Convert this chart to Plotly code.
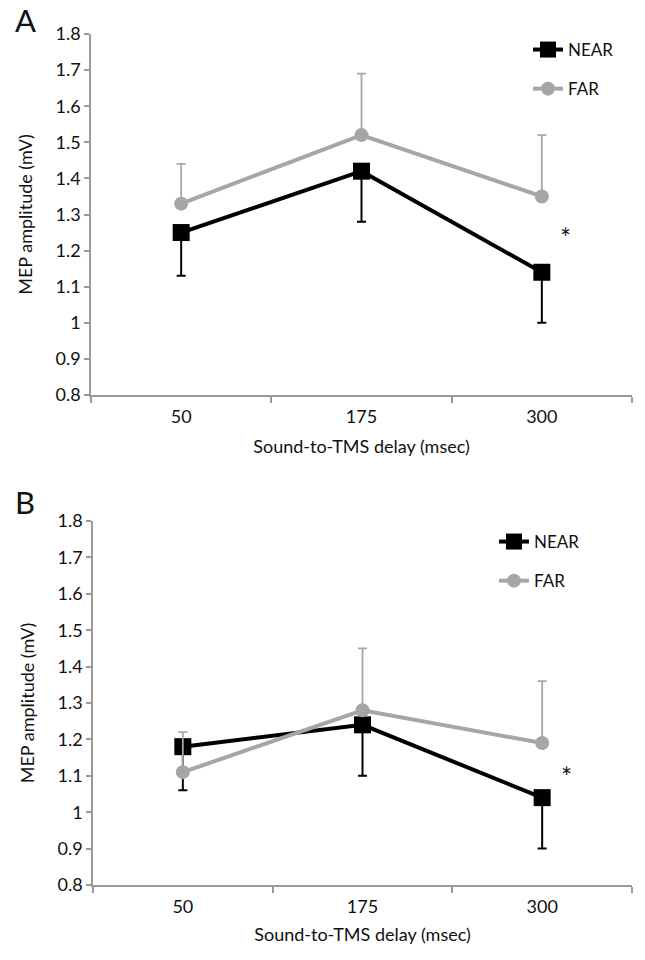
import plotly.graph_objects as go

# ---- data ----
delays = ["50", "175", "300"]
y_ticks = [0.8, 0.9, 1.0, 1.1, 1.2, 1.3, 1.4, 1.5, 1.6, 1.7, 1.8]
y_ticktext = ["0.8", "0.9", "1", "1.1", "1.2", "1.3", "1.4", "1.5", "1.6", "1.7", "1.8"]

a_near = [1.25, 1.42, 1.14]
a_near_err = [0.12, 0.14, 0.14]
a_far = [1.33, 1.52, 1.35]
a_far_err = [0.11, 0.17, 0.17]

b_near = [1.18, 1.24, 1.04]
b_near_err = [0.12, 0.14, 0.14]
b_far = [1.11, 1.28, 1.19]
b_far_err = [0.11, 0.17, 0.17]

star_a = 1.25
star_b = 1.11

W, H = 645, 960
BLACK = "#000000"
GRAY = "#a6a6a6"
AXC = "#9a9a9a"
FONT = "Lato"
TXT = "#111111"

def px(v):
    return v / W

def py(v):
    return 1 - v / H

fig = go.Figure()

def add_panel(near, near_err, far, far_err, xa, ya, legend):
    fig.add_trace(go.Scatter(
        x=delays, y=near, name="NEAR", mode="lines+markers",
        line=dict(color=BLACK, width=4),
        marker=dict(symbol="square", size=17, color=BLACK),
        error_y=dict(type="data", symmetric=False, array=[0, 0, 0], arrayminus=near_err,
                     color=BLACK, thickness=2, width=4.5),
        xaxis=xa, yaxis=ya, legend=legend, legendgroup=legend + "n",
    ))
    fig.add_trace(go.Scatter(
        x=delays, y=far, name="FAR", mode="lines+markers",
        line=dict(color=GRAY, width=4),
        marker=dict(symbol="circle", size=14, color=GRAY),
        error_y=dict(type="data", symmetric=False, array=far_err, arrayminus=[0, 0, 0],
                     color=GRAY, thickness=1.8, width=4.5),
        xaxis=xa, yaxis=ya, legend=legend, legendgroup=legend + "f",
    ))

add_panel(a_near, a_near_err, a_far, a_far_err, "x", "y", "legend")
add_panel(b_near, b_near_err, b_far, b_far_err, "x2", "y2", "legend2")

def xaxis_cfg(standoff):
    return dict(
        type="category", range=[-0.5, 2.5], showline=True, linecolor=AXC, linewidth=1.5,
        ticks="outside", tickson="boundaries", ticklen=6, tickcolor=AXC, tickwidth=1.5,
        showgrid=False, zeroline=False, ticklabelstandoff=5,
        tickfont=dict(family=FONT, size=18, color=TXT),
        title=dict(text="Sound-to-TMS delay (msec)", font=dict(family=FONT, size=18, color=TXT),
                   standoff=standoff),
        automargin=False,
    )

ycommon = dict(
    range=[0.8, 1.8], tickvals=y_ticks, ticktext=y_ticktext, showline=True, linecolor=AXC,
    linewidth=1.5, ticks="outside", ticklen=5, tickcolor=AXC, tickwidth=1.5,
    showgrid=False, zeroline=False,
    tickfont=dict(family=FONT, size=18, color=TXT),
    title=dict(text="MEP amplitude (mV)", font=dict(family=FONT, size=18, color=TXT), standoff=18),
    automargin=False,
)

legend_common = dict(xanchor="left", yanchor="top", font=dict(family=FONT, size=17, color=TXT),
                     tracegroupgap=14, bgcolor="rgba(0,0,0,0)")

fig.update_layout(
    width=W, height=H, margin=dict(l=0, r=0, t=0, b=0),
    paper_bgcolor="white", plot_bgcolor="white",
    xaxis=dict(domain=[px(91), px(632)], anchor="y", **xaxis_cfg(14)),
    yaxis=dict(domain=[py(395), py(34)], anchor="x", **ycommon),
    xaxis2=dict(domain=[px(93), px(632)], anchor="y2", **xaxis_cfg(12)),
    yaxis2=dict(domain=[py(885), py(521)], anchor="x2", **ycommon),
    legend=dict(x=px(528), y=py(32), **legend_common),
    legend2=dict(x=px(494), y=py(524), **legend_common),
    showlegend=True,
)

fig.add_annotation(x=2, y=star_a, xref="x", yref="y", text="*", showarrow=False,
                   xshift=24, yshift=-5, font=dict(family=FONT, size=26, color=TXT))
fig.add_annotation(x=2, y=star_b, xref="x2", yref="y2", text="*", showarrow=False,
                   xshift=24, yshift=-5, font=dict(family=FONT, size=26, color=TXT))

fig.add_annotation(x=px(25), y=py(20), xref="paper", yref="paper", text="A", showarrow=False,
                   xanchor="center", yanchor="middle",
                   font=dict(family=FONT, size=31, color=TXT))
fig.add_annotation(x=px(25), y=py(502), xref="paper", yref="paper", text="B", showarrow=False,
                   xanchor="center", yanchor="middle",
                   font=dict(family=FONT, size=31, color=TXT))

fig.write_html("out.html")
